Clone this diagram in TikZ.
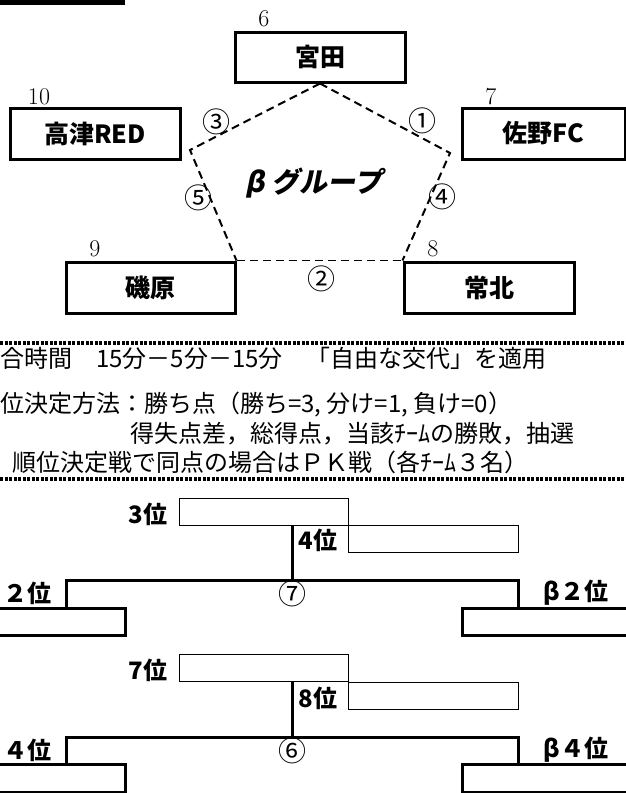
\documentclass[tikz,border=0pt]{standalone}
\usepackage{fontspec}
\newfontfamily\jp{Noto Sans CJK JP}
\newfontfamily\jpsl{Noto Sans CJK JP}[FakeSlant=0.2]
\begin{document}
\begin{tikzpicture}[x=1pt,y=-1pt]
\tikzset{
 team/.style={draw, line width=3pt, inner sep=0pt, font=\jp\bfseries\fontsize{25}{29}\selectfont},
 seed/.style={font=\fontsize{24}{28}\selectfont, inner sep=0pt},
 cnum/.style={font=\jp\fontsize{28}{32}\selectfont, inner sep=0pt},
 pent/.style={line width=2pt, dash pattern=on 8pt off 5pt},
 body/.style={font=\jp\fontsize{24}{28}\selectfont, inner sep=0pt, anchor=west},
 sepline/.style={line width=4pt, dash pattern=on 3pt off 1.5pt},
 rankbox/.style={draw, line width=1pt, inner sep=0pt, minimum width=169pt, minimum height=27pt, anchor=north west},
 endbox/.style={draw, line width=3pt, inner sep=0pt, minimum width=170pt, minimum height=27pt, anchor=north west},
 brline/.style={line width=3pt},
 rk/.style={font=\jp\bfseries\fontsize{24}{28}\selectfont, inner sep=0pt},
}
\useasboundingbox (0,0) rectangle (626,793);
% top-left bar
\fill (0,0) rectangle (125,4.5);

% team boxes
\node[team, minimum width=170pt, minimum height=50pt] (miyata) at (320,57) {宮田};
\node[team, minimum width=170pt, minimum height=51pt] (takatsu) at (95,133.5) {高津RED};
\node[team, minimum width=163pt, minimum height=51pt] (sano) at (543.5,133.5) {佐野FC};
\node[team, minimum width=169pt, minimum height=51pt] (isohara) at (150.5,287.5) {磯原};
\node[team, minimum width=170pt, minimum height=51pt] (johoku) at (489,287.5) {常北};

% seed numbers
\node[seed] (n6) at (264,19) {6};
\node[seed] (n10) at (39,97) {10};
\node[seed] (n7) at (491,97) {7};
\node[seed] (n9) at (95,249) {9};
\node[seed] (n8) at (433,249) {8};

% pentagon
\coordinate (pT) at (miyata.south);
\coordinate (pL) at (190,150);
\coordinate (pR) at (450,153);
\coordinate (pBL) at (isohara.north east);
\coordinate (pBR) at (johoku.north west);
\draw[pent] (pT) -- (pR) -- (pBR);
\draw[pent] (pT) -- (pL) -- (pBL);
\draw[pent, line width=1.6pt] (pBL) -- (pBR);
\node[font=\jpsl\bfseries\fontsize{28}{31}\selectfont, inner sep=0pt] (grp) at (314,183) {β グループ};

% match numbers
\node[cnum] (m1) at (422,121) {①};
\node[cnum] (m3) at (216,122) {③};
\node[cnum] (m5) at (198,198) {⑤};
\node[cnum] (m4) at (442,197) {④};
\node[cnum] (m2) at (321,279) {②};

% separators and rules text
\draw[sepline] (0,343) -- (626,343);
\node[body] (t1) at (0,358) {合時間　15分－5分－15分　「自由な交代」を適用};
\node[body] (t2) at (0,405) {位決定方法：勝ち点（勝ち=3, 分け=1, 負け=0）};
\node[body] (t3) at (130,434) {得失点差，総得点，当該ﾁｰﾑの勝敗，抽選};
\node[body] (t4) at (12,462) {順位決定戦で同点の場合はＰＫ戦（各ﾁｰﾑ３名）};
\draw[sepline] (0,479) -- (626,479);

% upper bracket
\node[rankbox] (b3) at (179,498) {};
\node[rankbox, minimum width=170pt] (b4) at (348,525) {};
\node[rk] (l3) at (148,514) {3位};
\node[rk] (l4) at (318,540) {4位};
\coordinate (j7) at (292,580);
\coordinate (jl7) at (66,580);
\coordinate (jr7) at (518,580);
\node[endbox, minimum width=130pt] (a2) at (-6,607) {};
\node[endbox] (b2) at (461,607) {};
\draw[brline] (b3.south -| j7) -- (j7);
\draw[brline] (jl7 |- a2.north) -- (jl7) -- (jr7) -- (jr7 |- b2.north);
\node[rk] (la2) at (27,593) {２位};
\node[rk] (lb2) at (576,593) {β２位};
\node[cnum] (m7) at (292,594) {⑦};

% lower bracket
\node[rankbox] (b7) at (179,654) {};
\node[rankbox, minimum width=170pt] (b8) at (348,682) {};
\node[rk] (l7) at (148,670) {7位};
\node[rk] (l8) at (318,698) {8位};
\coordinate (j6) at (292,737);
\coordinate (jl6) at (66,737);
\coordinate (jr6) at (518,737);
\node[endbox, minimum width=130pt, minimum height=28pt] (a4) at (-6,763) {};
\node[endbox, minimum height=28pt] (b4b) at (461,763) {};
\draw[brline] (b7.south -| j6) -- (j6);
\draw[brline] (jl6 |- a4.north) -- (jl6) -- (jr6) -- (jr6 |- b4b.north);
\node[rk] (la4) at (27,750) {４位};
\node[rk] (lb4) at (576,750) {β４位};
\node[cnum] (m6) at (292,751) {⑥};
\end{tikzpicture}
\end{document}
